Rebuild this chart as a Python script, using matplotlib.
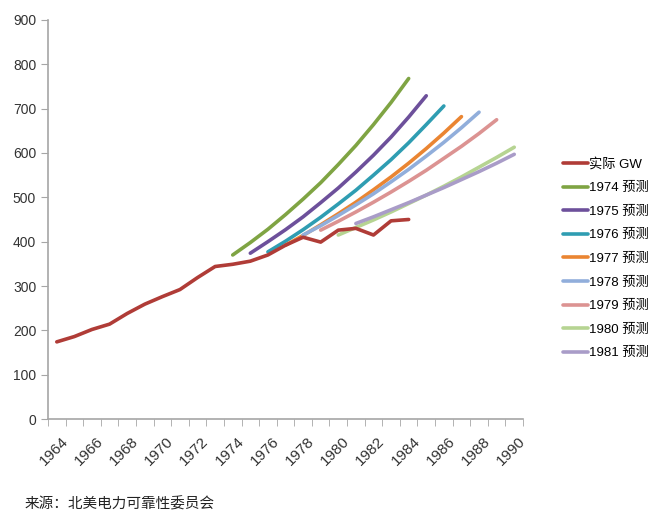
import numpy as np
import matplotlib
matplotlib.use('Agg')
import matplotlib.pyplot as plt
import matplotlib.transforms as mtransforms
from matplotlib.ticker import MultipleLocator, FixedLocator

plt.rcParams['font.family'] = ['Liberation Sans', 'Noto Sans CJK SC', 'DejaVu Sans']

# actual capacity, GW
years_actual = list(range(1964, 1985))
actual = [174, 186, 202, 214, 238, 259, 276, 292, 319, 344, 349,
          356, 370, 392, 410, 399, 426, 430, 415, 447, 450]

# forecasts by year made (start year)
fc_1974 = [370, 398, 428, 461, 496, 533, 574, 617, 664, 714, 768]
fc_1975 = [374, 400, 427, 456, 488, 521, 557, 595, 636, 681, 729]
fc_1976 = [377, 401, 427, 455, 485, 516, 550, 585, 623, 664, 706]
fc_1977 = [392, 414, 438, 463, 489, 517, 546, 577, 610, 645, 682]
fc_1978 = [415, 436, 459, 483, 508, 535, 563, 593, 624, 657, 692]
fc_1979 = [426, 446, 467, 489, 512, 536, 561, 588, 615, 644, 675]
fc_1980 = [415, 432, 449, 467, 486, 505, 525, 546, 568, 590, 613]
fc_1981 = [441, 456, 472, 488, 505, 522, 540, 558, 577, 597]

forecasts = [
    ('1974 预测', 1974, fc_1974, '#7FA443'),
    ('1975 预测', 1975, fc_1975, '#6D509B'),
    ('1976 预测', 1976, fc_1976, '#2F9DB2'),
    ('1977 预测', 1977, fc_1977, '#EA8532'),
    ('1978 预测', 1978, fc_1978, '#91AEDB'),
    ('1979 预测', 1979, fc_1979, '#DC9392'),
    ('1980 预测', 1980, fc_1980, '#B6D492'),
    ('1981 预测', 1981, fc_1981, '#A99CC8'),
]

fig = plt.figure(figsize=(6.52, 5.12), dpi=100)
ax = fig.add_axes([0.0736, 0.1816, 0.7286, 0.7794])

lw = 2.6
ax.plot(years_actual, actual, color='#B03C37', lw=lw, label='实际 GW',
        solid_capstyle='round', zorder=5)
for name, start, vals, col in forecasts:
    xs = np.arange(start, start + len(vals))
    ax.plot(xs, vals, color=col, lw=lw, label=name, solid_capstyle='round')

ax.set_xlim(1963.5, 1990.5)
ax.set_ylim(0, 900)
ax.yaxis.set_major_locator(MultipleLocator(100))
ax.set_xticks(list(range(1964, 1991, 2)))
ax.set_xticklabels([str(y) for y in range(1964, 1991, 2)], rotation=45,
                   ha='right', va='top', rotation_mode='anchor')
ax.xaxis.set_minor_locator(FixedLocator(np.arange(1963.5, 1991, 1)))
ax.tick_params(axis='x', which='major', length=0, pad=11, labelsize=11,
               colors='#333333')
ax.tick_params(axis='x', which='minor', length=5, color='#A6A6A6')
ax.tick_params(axis='y', length=5, color='#A6A6A6', labelsize=10,
               labelcolor='#333333')
shift = mtransforms.ScaledTranslation(4 / 100, 0, fig.dpi_scale_trans)
for lab in ax.get_xticklabels():
    lab.set_transform(lab.get_transform() + shift)

for s in ['top', 'right']:
    ax.spines[s].set_visible(False)
for s in ['left', 'bottom']:
    ax.spines[s].set_color('#A6A6A6')
    ax.spines[s].set_linewidth(1.2)

ax.legend(loc='upper left', bbox_to_anchor=(1.073, 0.668), frameon=False,
          fontsize=9.5, handlelength=1.9, handletextpad=0.08,
          labelspacing=0.86, borderaxespad=0)

fig.text(0.038, 0.006, '来源：北美电力可靠性委员会', fontsize=10.5,
         color='#222222', family=['Noto Sans CJK SC', 'DejaVu Sans'])

fig.savefig('out.png', dpi=100)
